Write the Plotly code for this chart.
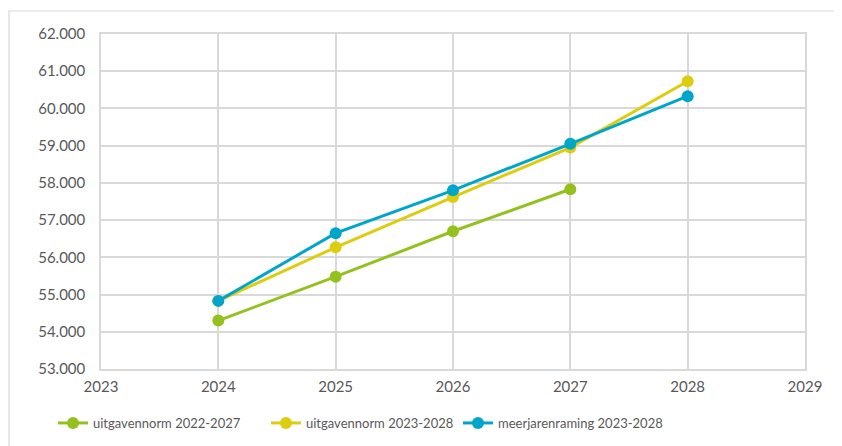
import plotly.graph_objects as go

years_a = [2024, 2025, 2026, 2027]
norm_2022_2027 = [54300, 55480, 56700, 57830]

years_b = [2024, 2025, 2026, 2027, 2028]
norm_2023_2028 = [54830, 56270, 57620, 58950, 60730]
raming_2023_2028 = [54830, 56650, 57800, 59050, 60330]

series_names = ["uitgavennorm 2022-2027", "uitgavennorm 2023-2028", "meerjarenraming 2023-2028"]
colors = ["#95c11f", "#ddcd0f", "#00a6c9"]

# page is rendered with an 8px body margin
OFF = 8
W, H = 842, 446
L, T = 101 - OFF, 34 - OFF
R = W - (805 - OFF)
B = H - (369 - OFF)
pw, ph = W - L - R, H - T - B

def px_x(p):
    return (p - OFF - L) / pw

def px_y(p):
    return (T + ph - (p - OFF)) / ph

legend_ids = ["legend", "legend2", "legend3"]
legend_x = [53, 266, 458]

fig = go.Figure()
for xs, ys, name, c, lg in [
    (years_a, norm_2022_2027, series_names[0], colors[0], legend_ids[0]),
    (years_b, norm_2023_2028, series_names[1], colors[1], legend_ids[1]),
    (years_b, raming_2023_2028, series_names[2], colors[2], legend_ids[2]),
]:
    fig.add_trace(go.Scatter(
        x=xs, y=ys, name=name, mode="lines+markers",
        line=dict(color=c, width=3),
        marker=dict(color=c, size=12),
        legend=lg,
    ))

grid = "#d9d9d9"
legend_font = dict(family="Lato", size=13, color="#595959")
legends = {}
for lg, lx in zip(legend_ids, legend_x):
    legends[lg] = dict(
        orientation="h", x=px_x(lx), xanchor="left",
        y=px_y(423), yanchor="middle",
        font=legend_font, itemwidth=30, bgcolor="rgba(0,0,0,0)",
    )

fig.update_layout(
    width=W, height=H,
    margin=dict(l=L, r=R, t=T, b=B),
    paper_bgcolor="white", plot_bgcolor="white",
    separators=",.",
    font=dict(family="Lato", size=15, color="#595959"),
    showlegend=True,
    **legends,
    xaxis=dict(
        range=[2023, 2029], dtick=1, tick0=2023,
        showgrid=True, gridcolor=grid, gridwidth=1.5,
        showline=True, linecolor=grid, linewidth=1.5, mirror=True,
        zeroline=False, ticks="", ticklabelstandoff=3,
    ),
    yaxis=dict(
        range=[53000, 62000], dtick=1000,
        tickformat=",.0f",
        showgrid=True, gridcolor=grid, gridwidth=1.5,
        showline=True, linecolor=grid, linewidth=1.5, mirror=True,
        zeroline=False, ticks="", ticklabelstandoff=11,
    ),
    shapes=[dict(
        type="rect", xref="paper", yref="paper",
        x0=px_x(9), x1=px_x(860),
        y0=px_y(470), y1=px_y(11),
        line=dict(color="#d9d9d9", width=1.2), fillcolor="rgba(0,0,0,0)",
        layer="below",
    )],
)

fig.write_html("out.html")
